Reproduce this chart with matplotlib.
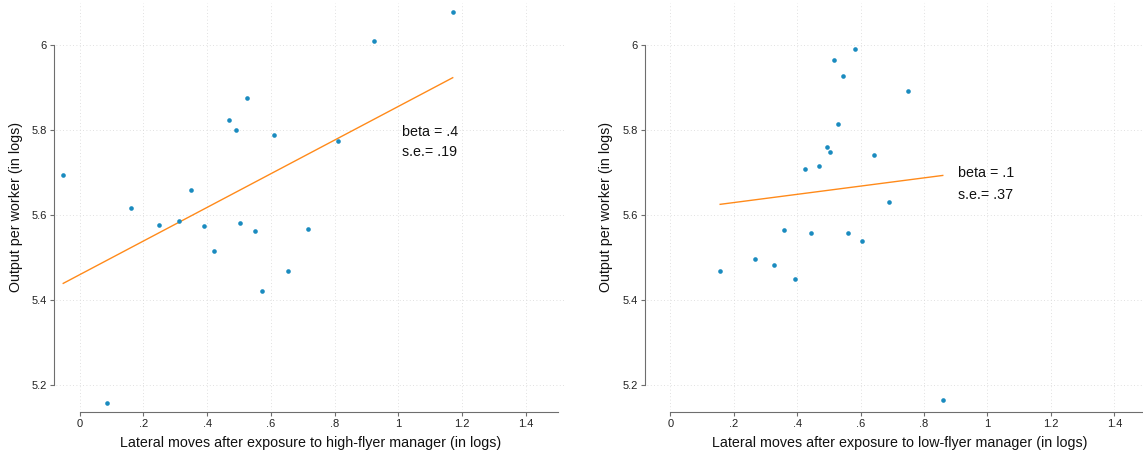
import matplotlib
matplotlib.use("Agg")
import matplotlib.pyplot as plt

plt.rcParams["font.family"] = ["Liberation Sans", "DejaVu Sans"]

# Panel izquierdo: exposición a high-flyer
x_alto = [-0.051, 0.086, 0.161, 0.249, 0.312, 0.351, 0.391, 0.422, 0.468, 0.492,
          0.504, 0.526, 0.550, 0.572, 0.610, 0.654, 0.715, 0.809, 0.922, 1.170]
y_alto = [5.693, 5.157, 5.617, 5.576, 5.586, 5.659, 5.573, 5.516, 5.824, 5.799,
          5.581, 5.875, 5.563, 5.421, 5.788, 5.469, 5.566, 5.774, 6.009, 6.077]
ajuste_alto_x = [-0.051, 1.170]
ajuste_alto_y = [5.439, 5.923]

# Panel derecho: exposición a low-flyer
x_bajo = [0.157, 0.266, 0.328, 0.359, 0.393, 0.423, 0.443, 0.469, 0.494, 0.504,
          0.517, 0.528, 0.543, 0.561, 0.581, 0.605, 0.643, 0.691, 0.750, 0.859]
y_bajo = [5.467, 5.496, 5.482, 5.565, 5.450, 5.708, 5.558, 5.715, 5.760, 5.747,
          5.965, 5.815, 5.926, 5.558, 5.990, 5.538, 5.742, 5.630, 5.892, 5.165]
ajuste_bajo_x = [0.157, 0.859]
ajuste_bajo_y = [5.625, 5.693]

xticks = [0, 0.2, 0.4, 0.6, 0.8, 1.0, 1.2, 1.4]
xtick_labels = ["0", ".2", ".4", ".6", ".8", "1", "1.2", "1.4"]
yticks = [5.2, 5.4, 5.6, 5.8, 6.0]
ytick_labels = ["5.2", "5.4", "5.6", "5.8", "6"]

AZUL = "#1a8bbf"
NARANJA = "#ff8a1a"
GRIS = "#6e6e6e"

W, H = 1143, 453
fig = plt.figure(figsize=(W / 100, H / 100), dpi=100)


def panel(px_izq, px_der, xs, ys, ax_x, ax_y, xlabel, texto, pos_texto, ylab_x, off_y):
    ax = fig.add_axes([px_izq / W, (H - 410) / H, (px_der - px_izq) / W, 407 / H])
    ax.set_xlim(-0.0737, 1.522)
    ax.set_ylim(5.141, 6.0988)

    for v in xticks:
        ax.axvline(v, color="#d6d6d6", lw=0.6, ls=(0, (1, 3)), zorder=0)
    for v in yticks:
        ax.axhline(v, color="#d6d6d6", lw=0.6, ls=(0, (1, 3)), zorder=0)

    ax.plot(ax_x, ax_y, color=NARANJA, lw=1.0, zorder=2)
    ax.scatter(xs, ys, s=11, color=AZUL, linewidths=0, zorder=3)

    for lado in ["top", "right"]:
        ax.spines[lado].set_visible(False)
    ax.spines["left"].set_position(("outward", off_y))
    ax.spines["bottom"].set_position(("outward", 1.3))
    ax.spines["left"].set_bounds(5.2, 6.0)
    ax.spines["bottom"].set_bounds(0, 1.5)
    for lado in ["left", "bottom"]:
        ax.spines[lado].set_color(GRIS)
        ax.spines[lado].set_linewidth(0.8)

    ax.set_xticks(xticks)
    ax.set_xticklabels(xtick_labels)
    ax.set_yticks(yticks)
    ax.set_yticklabels(ytick_labels)
    ax.tick_params(length=3, width=0.8, color=GRIS, labelsize=8, pad=2,
                   labelcolor="#222222")

    ax.set_xlabel(xlabel, fontsize=10.3, color="#111111")
    ax.xaxis.set_label_coords(0.5, -0.064)
    ax.set_ylabel("Output per worker (in logs)", fontsize=10.3, color="#111111")
    ax.yaxis.set_label_coords(ylab_x, 0.5)

    tx, ty1, ty2 = pos_texto
    ax.text(tx, ty1, texto[0], fontsize=10.3, va="center", ha="left", color="#111111")
    ax.text(tx, ty2, texto[1], fontsize=10.3, va="center", ha="left", color="#111111")
    return ax


panel(56, 565, x_alto, y_alto, ajuste_alto_x, ajuste_alto_y,
      "Lateral moves after exposure to high-flyer manager (in logs)",
      ["beta = .4", "s.e.= .19"], (1.012, 5.796, 5.747), -0.064, 1.5)

panel(647, 1153, x_bajo, y_bajo, ajuste_bajo_x, ajuste_bajo_y,
      "Lateral moves after exposure to low-flyer manager (in logs)",
      ["beta = .1", "s.e.= .37"], (0.908, 5.698, 5.647), -0.067, 1.7)

fig.savefig("out.png", dpi=100, facecolor="white")
